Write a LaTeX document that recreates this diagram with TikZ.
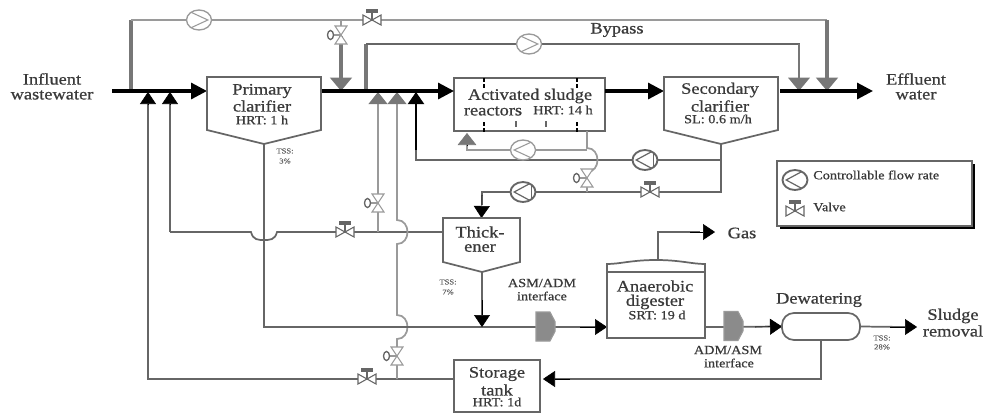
\documentclass[tikz,border=0pt]{standalone}
\usepackage{fontspec}
\setmainfont[FakeStretch=1.15,FakeBold=0.7]{Liberation Serif}
\usetikzlibrary{arrows.meta,shapes.geometric}
\definecolor{ink}{HTML}{3A3A3A}
\definecolor{gA}{HTML}{666666}
\definecolor{gB}{HTML}{9A9A9A}
\definecolor{gC}{HTML}{777777}
\tikzset{
  sz/.style 2 args={minimum width=#1*.75pt,minimum height=#2*.75pt,inner sep=0pt,outer sep=0pt},
  bigtxt/.style={font=\fontsize{12}{13}\selectfont,text=ink,inner sep=0pt},
  midtxt/.style={font=\fontsize{9.3}{10}\selectfont,text=ink,inner sep=0pt},
  tinytxt/.style={font=\fontsize{5.6}{6}\selectfont,text=gA,inner sep=0pt},
  main/.style={line width=2.4pt,black},
  thk/.style={line width=3pt,gC},
  lnA/.style={line width=1.3pt,gA},
  lnB/.style={line width=1.3pt,gB},
  tipK/.style={-{Triangle[length=12pt,width=12pt]},black},
  tipS/.style={-{Triangle[length=9pt,width=12pt,color=black]}},
  tipG/.style={-{Triangle[length=10pt,width=16pt,color=gC]}},
  tipU/.style={-{Triangle[length=9pt,width=14pt,color=gC]}},
  boxln/.style={line width=1.3pt,draw=gA,fill=white},
  pumpG/.style={ellipse,sz={25}{20},draw=gB,line width=1pt,fill=white},
  pumpD/.style={ellipse,sz={25}{20},draw=gA,line width=1.4pt,fill=white},
  valveH/.pic={
    \draw[line width=.8pt,draw=gA,fill=white] (-9,-5)--(9,5)--(9,-5)--(-9,5)--cycle;
    \draw[line width=1pt,gA] (0,0)--(0,-8);
    \fill[gA] (-6,-11) rectangle (6,-7);
  },
  valveV/.pic={
    \draw[line width=.8pt,draw=gB,fill=white] (-6,-9)--(6,-9)--(-6,9)--(6,9)--cycle;
    \draw[line width=1pt,gB] (0,0)--(-7,0);
    \draw[line width=1pt,gA,fill=white] (-10.5,0) ellipse (3 and 4.5);
  },
  iface/.pic={
    \draw[line width=.8pt,draw=gB,fill=gC!85!white] (0,-14.5)--(14,-14.5)--(19,-5)--(19,5)--(14,14.5)--(0,14.5)--cycle;
  }
}
\begin{document}
\begin{tikzpicture}[x=.75pt,y=-.75pt]
\useasboundingbox (0,0) rectangle (983,415);
% named positions
\coordinate (inA) at (112,91);
\coordinate (jTop) at (131,91);
\coordinate (cTL) at (131,20);
\coordinate (cTR) at (827,20);
\coordinate (effTop) at (827,91);
\coordinate (jV1) at (341,20);
\coordinate (tV1) at (341,91);
\coordinate (jBy) at (366,91);
\coordinate (cBL) at (366,44);
\coordinate (cBR) at (799,44);
\coordinate (effBy) at (799,91);
\coordinate (effEnd) at (873,91);
\coordinate (u1) at (148,92);
\coordinate (u2) at (170,92);
\coordinate (u3) at (378,92);
\coordinate (u4) at (397,92);
\coordinate (u5) at (416,92);
\coordinate (tipR) at (467,133);
\coordinate (ySto) at (148,379);
\coordinate (yInt) at (264,327);
% process units
\node[sz={114}{53}] (prim) at (264,103.5) {};
\coordinate (primP) at (264,144);
\node[sz={151}{53},boxln] (asr) at (529.5,104.5) {};
\node[sz={114}{53}] (sec) at (721,103.5) {};
\coordinate (secP) at (721,144);
\node[sz={77}{44}] (thk) at (481.5,240) {};
\coordinate (thkP) at (482,272);
\node[sz={98}{66}] (dig) at (656,305) {};
\node[sz={78}{27},rounded corners=9pt] (dew) at (821,326.5) {};
\node[sz={86}{52}] (sto) at (497,386) {};
% bypass flows
\draw[thk] (jTop)--(cTL);
\draw[lnB] (cTL)--(cTR);
\draw[thk] (cTR)--(827,78);
\draw[tipG,line width=2.6pt,gC] (cTR)--(effTop);
\draw[thk] (jBy)--(cBL);
\draw[lnA] (cBL)--(cBR)--(799,80);
\draw[tipG,line width=2pt,gC] (cBR)--(effBy);
\draw[lnB] (jV1)--(341,30);
\draw[tipG,line width=2.4pt,gC] (341,36)--(tV1);
% left recycle lines
\draw[lnA] (sto.west |- ySto)--(ySto)--(148,104);
\draw[tipS] (148,105)--(u1);
\draw[lnA] (170,232)--(170,104);
\draw[tipS] (170,105)--(u2);
\draw[lnA] (170,232)--(251,232) .. controls (253,240) and (258,240) .. (264,240) .. controls (270,240) and (275,240) .. (277,232) -- (thk.west |- 170,232);
\draw[lnB,tipU] (378,232)--(u3);
\draw[lnB,tipU] (397,379)--(397,339) .. controls (411,339) and (411,315) .. (397,315) -- (397,244) .. controls (411,244) and (411,220) .. (397,220) -- (u4);
% primary sludge
\draw[lnA] (primP)--(yInt)--(dig.west |- yInt);
% thickener in/out
\draw[line width=1.8pt,gA] (thkP)--(482,315);
\draw[tipS] (482,300)--(482,327);
% secondary outflows
\draw[line width=1.6pt,gA] (secP)--(721,192)--(482,192)--(482,205);
\draw[tipS] (482,195)--(thk.north);
\draw[lnA] (721,160)--(416,160)--(416,105);
\draw[tipS,line width=1.5pt] (416,150)--(u5);
\draw[lnB] (asr.south -| 587,131)--(587,148) .. controls (601,148) and (601,172) .. (587,172) -- (587,192);
\draw[lnB] (587,150)--(467,150)--(467,143);
\draw[tipU] (467,146)--(tipR);
% gas and dewatering
\draw[line width=1.6pt,gA] (658,264)--(658,232)--(700,232);
\draw[tipS] (690,232)--(715,232);
\draw[lnA] (dig.east |- yInt)--(dew.west);
\draw[tipS] (755,327)--(dew.west);
\draw[tipS] (580,327)--(dig.west |- yInt);
\draw[lnA] (dew.east)--(905,327);
\draw[tipS] (890,327)--(917,327);
\draw[line width=1.6pt,gA] (821,340)--(821,379)--(555,379);
\draw[tipS] (570,379)--(543,379);
% black main line
\draw[main,tipK] (inA)--(prim.west |- inA);
\draw[main,tipK] (prim.east |- inA)--(asr.west |- inA);
\draw[main,tipK] (asr.east |- inA)--(sec.west |- inA);
\draw[main,tipK] (780,91)--(effEnd);
% unit outlines
\draw[boxln] (prim.north west)--(prim.north east)--(prim.south east)--(primP)--(prim.south west)--cycle;
\draw[boxln] (sec.north west)--(sec.north east)--(sec.south east)--(secP)--(sec.south west)--cycle;
\draw[boxln] (thk.north west)--(thk.north east)--(thk.south east)--(thkP)--(thk.south west)--cycle;
\draw[boxln] (dig.north west) rectangle (dig.south east);
\draw[boxln] (607,272)--(607,264) .. controls (620,264) and (632,260) .. (656,260) .. controls (680,260) and (692,264) .. (705,264) -- (705,272) -- cycle;
\draw[boxln,rounded corners=9pt] (dew.south west) rectangle (dew.north east);
\draw[boxln] (sto.north west) rectangle (sto.south east);
% reactor partitions
\draw[line width=1.4pt,black,dash pattern=on 3pt off 1.5pt] (484,78)--(484,88) (484,122)--(484,133) (577,78)--(577,88) (577,122)--(577,133);
\draw[line width=1.2pt,gA] (516,121)--(516,127) (546,121)--(546,127);
% interfaces
\pic at (536,326.5) {iface};
\pic at (724,326) {iface};
% pumps
\node[pumpG,path picture={\draw[gB,line width=.8pt] (path picture bounding box.west)+(3pt,-6pt)--+(16pt,0pt)--+(3pt,6pt);}] (pA) at (199,20) {};
\node[pumpG,path picture={\draw[gB,line width=.8pt] (path picture bounding box.west)+(3pt,-6pt)--+(16pt,0pt)--+(3pt,6pt);}] (pB) at (529,44) {};
\node[pumpG,path picture={\draw[gB,line width=.8pt] (path picture bounding box.east)+(-3pt,-6pt)--+(-16pt,0pt)--+(-3pt,6pt);}] (pC) at (523,150) {};
\node[pumpD,path picture={\draw[gA,line width=.9pt] (path picture bounding box.east)+(-3pt,-7pt)--+(-16pt,0pt)--+(-3pt,7pt);\draw[gA,line width=1.4pt] (path picture bounding box.east)+(-3pt,-7pt)--+(-3pt,7pt);}] (pD) at (645,160) {};
\node[pumpD,path picture={\draw[gA,line width=.9pt] (path picture bounding box.east)+(-3pt,-7pt)--+(-16pt,0pt)--+(-3pt,7pt);\draw[gA,line width=1.4pt] (path picture bounding box.east)+(-3pt,-7pt)--+(-3pt,7pt);}] (pE) at (523,192) {};
% valves
\pic at (372,20) {valveH};
\pic at (345,232) {valveH};
\pic at (650,192) {valveH};
\pic at (367,379) {valveH};
\pic at (341,35) {valveV};
\pic at (378,203) {valveV};
\pic at (587,178) {valveV};
\pic at (397,356) {valveV};
% legend
\fill[black] (780,164) rectangle (975,229);
\node[sz={195}{65},boxln] (leg) at (874.5,193.5) {};
\node[pumpD,path picture={\draw[gA,line width=.9pt] (path picture bounding box.east)+(-3pt,-7pt)--+(-16pt,0pt)--+(-3pt,7pt);}] (pL) at (795,180) {};
\pic at (795,211) {valveH};
\node[midtxt,anchor=west] (tL1) at (813,175) {Controllable flow rate};
\node[midtxt,anchor=west] (tL2) at (813,207) {Valve};
% labels
\node[bigtxt] (t1) at (52,79) {Influent};
\node[bigtxt] (t2) at (52,95) {wastewater};
\node[bigtxt] (t3) at (262,91) {Primary};
\node[bigtxt] (t4) at (262,106) {clarifier};
\node[midtxt] (t5) at (262,120) {HRT: 1 h};
\node[tinytxt] (t6) at (285,151) {TSS:};
\node[tinytxt] (t7) at (285,161) {3\%};
\node[bigtxt] (t8) at (617,30) {Bypass};
\node[bigtxt] (t9) at (530,96) {Activated sludge};
\node[bigtxt] (t10) at (493,111) {reactors};
\node[midtxt] (t11) at (563,110) {HRT: 14 h};
\node[bigtxt] (t12) at (720,90) {Secondary};
\node[bigtxt] (t13) at (720,106) {clarifier};
\node[midtxt] (t14) at (718,119) {SL: 0.6 m/h};
\node[bigtxt] (t15) at (916,79) {Effluent};
\node[bigtxt] (t16) at (916,95) {water};
\node[bigtxt] (t17) at (480,232) {Thick-};
\node[bigtxt] (t18) at (480,248) {ener};
\node[tinytxt] (t19) at (448,282) {TSS:};
\node[tinytxt] (t20) at (448,292) {7\%};
\node[midtxt] (t21) at (542,283) {ASM/ADM};
\node[midtxt] (t22) at (542,296) {interface};
\node[bigtxt] (t23) at (655,286) {Anaerobic};
\node[bigtxt] (t24) at (655,302) {digester};
\node[midtxt] (t25) at (657,315) {SRT: 19 d};
\node[bigtxt] (t26) at (742,233) {Gas};
\node[bigtxt] (t27) at (819,300) {Dewatering};
\node[bigtxt] (t28) at (953,316) {Sludge};
\node[bigtxt] (t29) at (953,331) {removal};
\node[tinytxt] (t30) at (882,338) {TSS:};
\node[tinytxt] (t31) at (882,347) {28\%};
\node[midtxt] (t32) at (728,350) {ADM/ASM};
\node[midtxt] (t33) at (729,363) {interface};
\node[bigtxt] (t34) at (497,374) {Storage};
\node[bigtxt] (t35) at (497,390) {tank};
\node[midtxt] (t36) at (497,402) {HRT: 1d};
\end{tikzpicture}
\end{document}
